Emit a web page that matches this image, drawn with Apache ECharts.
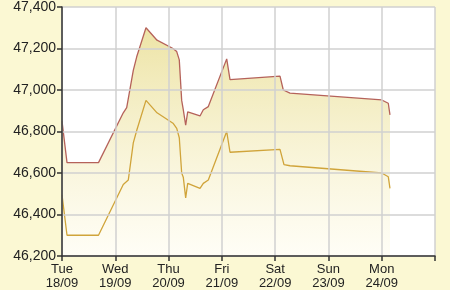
<!DOCTYPE html>
<html><head><meta charset="utf-8">
<script src="https://cdn.jsdelivr.net/npm/echarts@6/dist/echarts.min.js"></script>
<style>html,body{margin:0;padding:0;background:#FBF8D3;}#c{width:450px;height:290px;}</style>
</head><body><div id="c"></div>
<script>
// x positions are in days since Tue 18/09
var dayLabels = ['Tue\n18/09','Wed\n19/09','Thu\n20/09','Fri\n21/09','Sat\n22/09','Sun\n23/09','Mon\n24/09',''];
var sellDays = [0,0.094,0.685,1.150,1.214,1.338,1.402,1.576,1.783,2.083,2.153,2.201,2.246,2.276,2.321,2.359,2.590,2.652,2.746,3.091,3.153,4.091,4.153,4.279,6.000,6.123,6.155];
var sellVals = [46850,46650,46650,46890,46915,47095,47160,47300,47240,47200,47185,47145,46950,46905,46830,46895,46875,46905,46920,47150,47050,47067,47000,46985,46952,46936,46880];
var buyDays  = [0,0.094,0.685,1.150,1.244,1.338,1.402,1.576,1.783,2.083,2.153,2.201,2.246,2.276,2.321,2.359,2.590,2.652,2.746,3.091,3.153,4.091,4.166,4.279,6.000,6.123,6.155];
var buyVals  = [46495,46300,46300,46545,46566,46745,46805,46950,46890,46840,46815,46770,46600,46580,46480,46550,46526,46550,46566,46800,46700,46714,46640,46635,46600,46582,46526];
var yMin = 46200, yMax = 47400, yStep = 200;

function pairs(xs, ys){ return xs.map(function(x,i){ return [x, ys[i]]; }); }
var chart = echarts.init(document.getElementById('c'), null, {renderer:'canvas'});
chart.setOption({
  backgroundColor:'#FBF8D3',
  animation:false,
  grid:{left:62,right:15,top:7,bottom:34,show:true,backgroundColor:'#ffffff',borderWidth:0},
  xAxis:{type:'value',min:0,max:7,interval:1,z:10,
    axisLine:{show:true,lineStyle:{color:'#333',width:1.5}},
    axisTick:{show:true,length:5,lineStyle:{color:'#333',width:1.5}},
    splitLine:{show:true,lineStyle:{color:'#d0d0d0',width:1.5}},
    axisLabel:{formatter:function(v){return dayLabels[Math.round(v)];},color:'#222',fontSize:13,lineHeight:14,margin:6,fontFamily:'Liberation Sans'}},
  yAxis:{type:'value',min:yMin,max:yMax,interval:yStep,z:10,
    axisLine:{show:true,lineStyle:{color:'#333',width:1.5}},
    axisTick:{show:true,length:5,lineStyle:{color:'#333',width:1.5}},
    splitLine:{show:true,lineStyle:{color:'#d0d0d0',width:1.5}},
    axisLabel:{color:'#222',fontSize:14,margin:6,fontFamily:'Liberation Sans'}},
  series:[
    {type:'line',data:pairs(sellDays,sellVals),symbol:'none',lineStyle:{color:'#B5625A',width:1.3},
      areaStyle:{origin:'start',opacity:1,color:new echarts.graphic.LinearGradient(0,0,0,1,[
        {offset:0,color:'rgba(234,223,150,0.85)'},
        {offset:1,color:'rgba(255,253,240,0.6)'}])},z:2},
    {type:'line',data:pairs(buyDays,buyVals),symbol:'none',lineStyle:{color:'#D0A43A',width:1.3},z:3}
  ]
});
</script></body></html>
